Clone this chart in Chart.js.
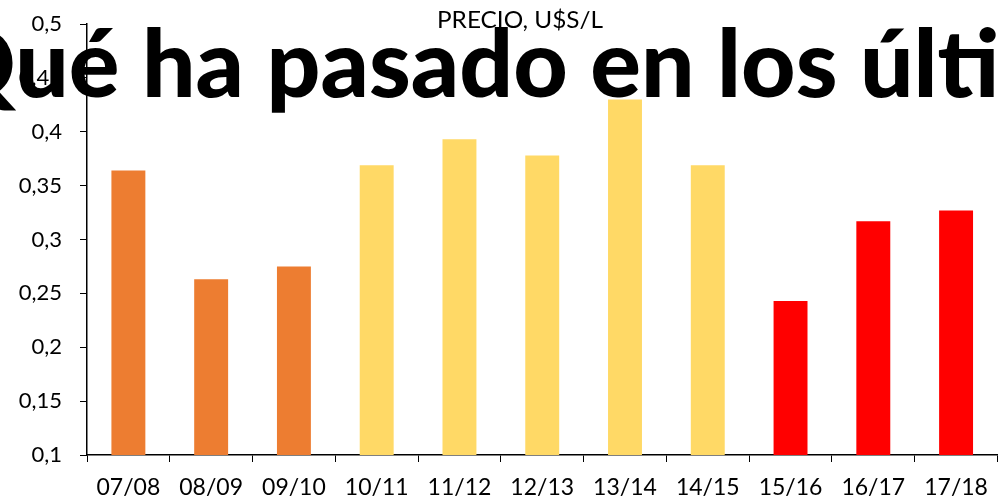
<!DOCTYPE html>
<html>
<head>
<meta charset="utf-8">
<script src="https://cdn.jsdelivr.net/npm/chart.js@4/dist/chart.umd.min.js"></script>
<style>
  html, body { margin: 0; padding: 0; background: #fff; }
  #wrap { width: 1000px; height: 502px; }
</style>
</head>
<body>
<div id="wrap"><canvas id="precioChart"></canvas></div>
<script>
// campañas y precio (U$S/L)
const seasons = ['07/08', '08/09', '09/10', '10/11', '11/12', '12/13', '13/14', '14/15', '15/16', '16/17', '17/18'];
const prices = [0.364, 0.263, 0.275, 0.369, 0.393, 0.378, 0.430, 0.369, 0.243, 0.317, 0.327];
const barColors = ['#ED7D31', '#ED7D31', '#ED7D31', '#FFD966', '#FFD966', '#FFD966', '#FFD966', '#FFD966', '#FF0000', '#FF0000', '#FF0000'];
const yTicks = [0.1, 0.15, 0.2, 0.25, 0.3, 0.35, 0.4, 0.45, 0.5];
const chartTitle = 'PRECIO, U$S/L';
const headline = '¿Qué ha pasado en los últimos años?';

// title + big overlapping headline, drawn on top of the chart
const overlayText = {
  id: 'overlayText',
  afterDraw(chart) {
    const c = chart.ctx;
    c.save();
    c.fillStyle = '#000';
    c.textBaseline = 'alphabetic';

    c.font = '23px Lato';
    c.textAlign = 'left';
    const tw = c.measureText(chartTitle).width;
    c.translate(437, 28);
    c.scale(166 / tw, 1);
    c.fillText(chartTitle, 0, 0);
    c.setTransform(1, 0, 0, 1, 0, 0);

    c.font = '900 93px Lato';
    const lead = c.measureText('¿Qué ').width;
    const span = c.measureText('ha pasado en los ').width;
    c.translate(142, 97);
    c.scale(718 / span, 1);
    c.fillText(headline, -lead, 0);
    c.restore();
  }
};

const ctx = document.getElementById('precioChart').getContext('2d');
const precioChart = new Chart(ctx, {
  type: 'bar',
  data: {
    labels: seasons,
    datasets: [{
      label: chartTitle,
      data: prices,
      backgroundColor: barColors,
      borderWidth: 0,
      barPercentage: 0.41,
      categoryPercentage: 1
    }]
  },
  options: {
    responsive: true,
    maintainAspectRatio: false,
    animation: false,
    layout: { padding: { top: 24, right: 1, left: 0, bottom: 0 } },
    plugins: {
      legend: { display: false },
      tooltip: { enabled: false },
      title: { display: false }
    },
    scales: {
      x: {
        grid: { drawOnChartArea: false, drawTicks: true, tickLength: 7, color: '#000', offset: true },
        border: { color: '#000', width: 1.5 },
        ticks: { color: '#000', font: { family: 'Lato', size: 23 }, padding: 12, maxRotation: 0, autoSkip: false },
        afterFit: scale => { scale.height = 47; }
      },
      y: {
        min: 0.1,
        max: 0.5,
        grid: { drawOnChartArea: false, drawTicks: true, tickLength: 7, color: '#000' },
        border: { color: '#000', width: 1.5 },
        afterBuildTicks: scale => { scale.ticks = yTicks.map(v => ({ value: v })); },
        ticks: {
          color: '#000',
          font: { family: 'Lato', size: 22 },
          padding: 18,
          callback: v => String(parseFloat(v.toFixed(2))).replace('.', ',')
        },
        afterFit: scale => {
          scale.width = 87;
          // tick padding would otherwise push the plot top down
          scale.paddingTop = 0;
          scale.paddingBottom = 0;
        }
      }
    }
  },
  plugins: [overlayText]
});
</script>
</body>
</html>
